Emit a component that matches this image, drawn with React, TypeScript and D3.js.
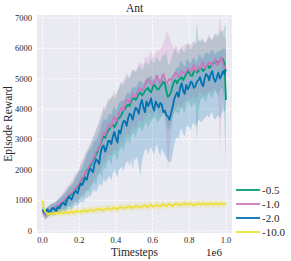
import React from "react";
import * as d3 from "d3";

const SERIES_NAMES = ["-0.5", "-1.0", "-2.0", "-10.0"];
const COLORS = ["#029E73", "#CC78BC", "#0173B2", "#ECE133"];

// timesteps spread evenly over 0 .. 1e6 (one value per entry of each array)
const T_MAX = 1e6;

const MEAN_05 = [
  680, 600, 540, 620, 640, 700, 700, 720, 740, 780,
  800, 850, 880, 920, 960, 1020, 1050, 1100, 1150, 1200,
  1250, 1330, 1380, 1450, 1500, 1620, 1700, 1780, 1900, 1980,
  2050, 2100, 2200, 2320, 2400, 2500, 2600, 2750, 2850, 3000,
  3100, 3050, 3200, 3300, 3350, 3450, 3500, 3400, 3500, 3650,
  3700, 3750, 3850, 3950, 4000, 4100, 4150, 4100, 4250, 4350,
  4350, 4300, 4400, 4500, 4550, 4450, 4500, 4600, 4650, 4700,
  4600, 4550, 4700, 4800, 4750, 4650, 4650, 4750, 4800, 4900,
  4850, 4600, 4400, 4450, 4550, 4750, 4900, 4950, 4850, 4950,
  5000, 5050, 4950, 5050, 5150, 5250, 5200, 5100, 5100, 5250,
  5300, 5200, 5250, 5350, 5350, 5250, 5300, 5400, 5450, 5350,
  5400, 5500, 5500, 5600, 5550, 5500, 5600, 5650, 5650, 5500, 4300,
];
const LO_05 = [
  530, 450, 380, 430, 470, 520, 530, 500, 560, 590,
  600, 560, 650, 700, 700, 660, 750, 800, 820, 760,
  870, 950, 950, 900, 1000, 1100, 1150, 1050, 1250, 1300,
  1350, 1250, 1450, 1550, 1600, 1500, 1750, 1850, 1900, 1750,
  2100, 2000, 2200, 2350, 2300, 2150, 2450, 2550, 2400, 2300,
  2600, 2700, 2750, 2600, 2850, 2950, 3000, 2800, 3100, 3200,
  3200, 3050, 3300, 3400, 3400, 3250, 3350, 3500, 3550, 3400,
  3500, 3600, 3650, 3750, 3700, 3550, 3600, 3700, 3750, 3850,
  3800, 3500, 3300, 3350, 3500, 3700, 3850, 3950, 3900, 3800,
  4000, 4050, 3950, 3850, 4150, 4250, 4200, 4050, 4100, 4200,
  4200, 2900, 3900, 4250, 4350, 4400, 4300, 4200, 4450, 4550,
  4400, 4350, 4500, 4600, 4550, 4450, 4600, 4700, 4650, 3500, 1800,
];
const HI_05 = [
  830, 760, 700, 770, 810, 860, 880, 900, 930, 980,
  1010, 1060, 1120, 1180, 1230, 1300, 1350, 1450, 1480, 1550,
  1620, 1750, 1820, 1900, 2000, 2150, 2250, 2350, 2500, 2600,
  2700, 2800, 2900, 3050, 3150, 3300, 3400, 3550, 3700, 3850,
  4000, 3950, 4100, 4250, 4300, 4400, 4450, 4350, 4450, 4600,
  4700, 4800, 4850, 4750, 4950, 5050, 5100, 5000, 5200, 5300,
  5250, 5200, 5300, 5450, 5400, 5300, 5350, 5500, 5550, 5450,
  5500, 5650, 5600, 5500, 5650, 5700, 5600, 5550, 5700, 5800,
  5750, 5900, 5500, 5450, 5600, 5800, 5900, 6000, 5850, 5800,
  5950, 6050, 5900, 5850, 6050, 6150, 6100, 5950, 6050, 6200,
  6150, 6850, 6250, 6200, 6250, 6350, 6200, 6150, 6350, 6450,
  6300, 6250, 6400, 6500, 6450, 6400, 6500, 6600, 6550, 6700, 6850,
];

const MEAN_10 = [
  650, 560, 520, 640, 620, 690, 720, 700, 760, 800,
  830, 880, 920, 960, 1000, 1060, 1100, 1180, 1200, 1250,
  1300, 1380, 1420, 1500, 1550, 1680, 1750, 1820, 1950, 1900,
  2050, 2200, 2250, 2350, 2450, 2600, 2650, 2750, 2900, 3100,
  3250, 3150, 3350, 3500, 3500, 3400, 3650, 3750, 3600, 3700,
  3850, 4000, 4050, 3950, 4200, 4300, 4300, 4200, 4350, 4500,
  4450, 4400, 4550, 4650, 4700, 4600, 4650, 4800, 4850, 5000,
  4950, 4850, 4800, 4900, 5000, 5100, 4950, 4850, 5050, 5150,
  5000, 4850, 4900, 5000, 4950, 5050, 5100, 5200, 5150, 5050,
  5100, 5250, 5200, 5150, 5250, 5350, 5300, 5200, 5350, 5450,
  5250, 5300, 5400, 5300, 5450, 5550, 5350, 5400, 5450, 5550,
  5500, 5400, 5550, 5650, 5450, 5500, 5600, 5700, 5500, 5350, 5400,
];
const LO_10 = [
  500, 420, 350, 400, 450, 520, 550, 540, 580, 600,
  620, 640, 680, 700, 720, 760, 780, 830, 850, 870,
  900, 930, 950, 1000, 1050, 1150, 1200, 1250, 1350, 1300,
  1400, 1500, 1550, 1600, 1700, 1800, 1850, 1900, 2000, 2150,
  2300, 2250, 2400, 2500, 2500, 2450, 2600, 2700, 2650, 2600,
  2800, 2900, 2950, 2900, 3100, 3200, 3200, 3100, 3300, 3400,
  3400, 3350, 3500, 3600, 3650, 3500, 3600, 3750, 3800, 3850,
  3900, 3750, 3700, 3850, 3950, 4000, 3800, 3700, 3900, 3850,
  3700, 3000, 2000, 2600, 3100, 3600, 3900, 4000, 4100, 4150,
  4050, 4100, 4200, 4250, 4300, 4350, 4350, 4300, 4400, 4450,
  4300, 4350, 4500, 4550, 4550, 4450, 4400, 4500, 4500, 4600,
  4600, 4550, 4650, 4700, 4500, 4300, 2600, 3800, 4550, 4500, 4450,
];
const HI_10 = [
  800, 760, 700, 760, 800, 860, 900, 920, 950, 1000,
  1050, 1100, 1150, 1250, 1300, 1380, 1450, 1500, 1550, 1650,
  1700, 1850, 1900, 1950, 2050, 2200, 2300, 2400, 2550, 2650,
  2700, 2850, 2950, 3100, 3200, 3300, 3450, 3600, 3750, 3950,
  4100, 4050, 4200, 4350, 4350, 4300, 4500, 4600, 4450, 4550,
  4700, 4900, 4850, 5000, 5050, 5200, 5100, 5050, 5150, 5300,
  5250, 5300, 5350, 5500, 5550, 5450, 5500, 5700, 5700, 5650,
  5800, 5900, 5700, 5750, 5850, 5950, 5900, 6000, 6000, 6200,
  6300, 6550, 6500, 6400, 6200, 6100, 6000, 6100, 6050, 5950,
  5950, 6050, 6050, 6150, 6100, 6200, 6150, 6100, 6200, 6250,
  6100, 6200, 6250, 6300, 6300, 6200, 6200, 6250, 6300, 6350,
  6350, 6300, 6400, 6450, 6300, 6500, 7100, 6600, 6400, 6350, 6300,
];

const MEAN_20 = [
  700, 620, 560, 700, 640, 590, 700, 760, 690, 650,
  780, 740, 830, 900, 900, 840, 1000, 1120, 1080, 1020,
  1150, 1260, 1300, 1220, 1420, 1550, 1500, 1620, 1750, 1680,
  1900, 2050, 2000, 1920, 2200, 2350, 2300, 2200, 2550, 2750,
  2800, 2600, 2750, 2950, 2950, 2850, 3100, 3250, 3050, 2900,
  3300, 3200, 3450, 3600, 3600, 3450, 3700, 3850, 3800, 3650,
  3900, 4050, 3980, 3850, 4150, 4300, 4050, 3900, 4250, 4100,
  4200, 4350, 4100, 3950, 4250, 4150, 4050, 4200, 4150, 3900,
  3950, 3800, 3750, 3650, 3850, 4050, 4300, 4450, 4550, 4400,
  4700, 4850, 4600, 4500, 4800, 4650, 4750, 4900, 4850, 4700,
  4750, 4900, 4950, 5050, 4850, 4750, 5000, 5150, 5100, 4950,
  5150, 5250, 5000, 4900, 5050, 5200, 5000, 5100, 5250, 5150, 5300,
];
const LO_20 = [
  550, 470, 400, 440, 480, 500, 520, 480, 500, 540,
  560, 540, 580, 620, 620, 600, 680, 700, 720, 680,
  760, 820, 850, 800, 900, 950, 950, 900, 1100, 1050,
  1150, 1100, 1200, 1300, 1350, 1250, 1400, 1500, 1550, 1450,
  1700, 1600, 1650, 1750, 1800, 1650, 1900, 2000, 1850, 1750,
  2000, 2050, 2100, 1950, 2150, 2250, 2300, 2100, 2350, 2000,
  2400, 2300, 2450, 2100, 1800, 2300, 2500, 2650, 2700, 2500,
  2650, 2750, 2600, 2500, 2750, 2850, 2600, 2450, 2700, 2600,
  2500, 2400, 2300, 2250, 2250, 2500, 2800, 3000, 3100, 3000,
  3300, 3350, 3200, 3100, 3400, 3450, 3400, 3300, 3500, 3550,
  3400, 3500, 3650, 3600, 3550, 3650, 3700, 3750, 3800, 3700,
  3850, 3900, 3700, 3650, 3750, 3800, 3700, 3850, 3950, 3900, 4050,
];
const HI_20 = [
  850, 780, 700, 760, 800, 840, 880, 900, 900, 960,
  1000, 1040, 1080, 1130, 1180, 1250, 1320, 1400, 1450, 1500,
  1550, 1650, 1750, 1850, 1950, 2000, 2050, 2200, 2350, 2500,
  2600, 2650, 2700, 2850, 2950, 3000, 3050, 3250, 3400, 3550,
  3700, 3650, 3650, 3800, 3850, 3800, 4000, 4100, 3950, 4050,
  4200, 4250, 4300, 4250, 4400, 4500, 4550, 4500, 4650, 4700,
  4750, 4700, 4800, 4900, 4950, 4850, 4850, 4950, 5000, 5050,
  5050, 5100, 5000, 4950, 5100, 5150, 4950, 4900, 5000, 5050,
  4900, 4850, 4850, 4800, 4900, 5050, 5200, 5300, 5400, 5350,
  5550, 5600, 5450, 5400, 5600, 5650, 5550, 5500, 5650, 5700,
  5600, 5550, 5750, 5800, 5700, 5650, 5800, 5850, 5850, 5800,
  5900, 5950, 5850, 5800, 5850, 5900, 5900, 5950, 6000, 5950, 6050,
];

const MEAN_100 = [
  1000, 700, 600, 560, 540, 580, 560, 540, 570, 590,
  560, 600, 590, 570, 580, 620, 600, 580, 610, 640,
  590, 610, 630, 650, 620, 600, 650, 670, 640, 630,
  660, 690, 680, 660, 650, 700, 690, 720, 700, 670,
  680, 710, 720, 750, 700, 690, 740, 760, 720, 700,
  750, 780, 770, 750, 740, 770, 780, 800, 760, 740,
  790, 820, 800, 780, 770, 800, 810, 840, 790, 770,
  830, 850, 800, 790, 840, 860, 810, 800, 850, 870,
  820, 800, 860, 880, 830, 810, 850, 880, 870, 850,
  840, 870, 860, 890, 880, 850, 870, 900, 850, 840,
  860, 880, 890, 870, 860, 900, 880, 860, 870, 890,
  890, 870, 860, 900, 880, 860, 900, 880, 870, 890, 860,
];
const LO_100 = [
  880, 580, 480, 460, 440, 470, 460, 440, 470, 480,
  460, 490, 480, 470, 480, 510, 500, 480, 500, 530,
  490, 500, 520, 540, 510, 500, 540, 560, 530, 520,
  550, 580, 570, 550, 540, 590, 580, 610, 590, 560,
  570, 600, 610, 640, 590, 580, 630, 650, 610, 590,
  640, 670, 660, 640, 630, 660, 670, 690, 650, 630,
  680, 710, 690, 670, 660, 690, 700, 730, 680, 660,
  720, 740, 690, 680, 730, 750, 700, 690, 740, 760,
  710, 690, 750, 770, 720, 700, 740, 770, 760, 740,
  730, 760, 750, 780, 770, 740, 760, 790, 740, 730,
  750, 770, 780, 760, 750, 790, 770, 750, 760, 780,
  780, 760, 750, 790, 770, 750, 790, 770, 760, 780, 750,
];
const HI_100 = [
  1130, 820, 720, 670, 650, 690, 670, 650, 680, 710,
  670, 720, 710, 680, 690, 740, 720, 700, 730, 760,
  710, 730, 750, 770, 740, 720, 770, 790, 760, 750,
  780, 810, 800, 780, 770, 820, 810, 840, 820, 790,
  800, 830, 840, 870, 820, 810, 860, 880, 840, 820,
  870, 900, 890, 870, 860, 890, 900, 920, 880, 860,
  910, 940, 920, 900, 890, 920, 930, 960, 910, 890,
  950, 970, 920, 910, 960, 980, 930, 920, 970, 990,
  940, 920, 980, 1000, 950, 930, 970, 1000, 990, 970,
  960, 990, 980, 1010, 1000, 970, 990, 1020, 970, 960,
  980, 1000, 1010, 990, 980, 1020, 1000, 980, 990, 1010,
  1010, 990, 980, 1020, 1000, 980, 1020, 1000, 990, 1010, 980,
];

const MEANS = [MEAN_05, MEAN_10, MEAN_20, MEAN_100];
const LOWS = [LO_05, LO_10, LO_20, LO_100];
const HIGHS = [HI_05, HI_10, HI_20, HI_100];

const X_TICKS = [0, 0.2e6, 0.4e6, 0.6e6, 0.8e6, 1.0e6];
const Y_TICKS = [0, 1000, 2000, 3000, 4000, 5000, 6000, 7000];

const W = 291;
const H = 261;
const PL = 37, PR = 232, PT = 15, PB = 233;
const FONT = "'Liberation Serif', 'DejaVu Serif', serif";

export default function App() {
  const x = d3.scaleLinear().domain([-0.03e6, 1.0327e6]).range([PL, PR]);
  const y = d3.scaleLinear().domain([-76, 7095]).range([PB, PT]);

  const stepOf = (n: number, i: number) => (i / (n - 1)) * T_MAX;

  const line = (vals: number[]) =>
    d3
      .line<number>()
      .x((_, i) => x(stepOf(vals.length, i)))
      .y((v) => y(v))(vals) || "";
  const area = (lo: number[], hi: number[]) => {
    const n = Math.min(lo.length, hi.length);
    const idx = d3.range(n);
    return (
      d3
        .area<number>()
        .x((i) => x(stepOf(n, i)))
        .y0((i) => y(lo[i]))
        .y1((i) => y(hi[i]))(idx) || ""
    );
  };

  const legendY = [190, 204, 218, 232];

  return (
    <svg
      width={W}
      height={H}
      style={{ position: "absolute", left: 0, top: 0, background: "#fff" }}
      fontFamily={FONT}
    >
      <rect x={PL} y={PT} width={PR - PL} height={PB - PT} fill="#EAEAF2" />
      {X_TICKS.map((t) => (
        <line key={"gx" + t} x1={x(t)} x2={x(t)} y1={PT} y2={PB} stroke="#fff" strokeWidth={0.9} strokeDasharray="3,1.5" />
      ))}
      {Y_TICKS.map((t) => (
        <line key={"gy" + t} x1={PL} x2={PR} y1={y(t)} y2={y(t)} stroke="#fff" strokeWidth={0.9} strokeDasharray="3,1.5" />
      ))}
      <g>
        {MEANS.map((_, k) => (
          <path key={"band" + k} d={area(LOWS[k], HIGHS[k])} fill={COLORS[k]} fillOpacity={0.22} stroke="none" />
        ))}
        {MEANS.map((m, k) => (
          <path key={"line" + k} d={line(m)} fill="none" stroke={COLORS[k]} strokeWidth={1.8} strokeLinejoin="round" />
        ))}
      </g>
      {X_TICKS.map((t) => (
        <text key={"tx" + t} x={x(t)} y={242.5} fontSize={8.5} textAnchor="middle" fill="#262626">
          {(t / 1e6).toFixed(1)}
        </text>
      ))}
      {Y_TICKS.map((t) => (
        <text key={"ty" + t} x={32} y={y(t)} fontSize={8.5} textAnchor="end" dominantBaseline="central" fill="#262626">
          {t}
        </text>
      ))}
      <text x={(PL + PR) / 2} y={11.5} fontSize={11.5} textAnchor="middle" fill="#262626">
        Ant
      </text>
      <text x={(PL + PR) / 2} y={256} fontSize={11.5} textAnchor="middle" fill="#262626">
        Timesteps
      </text>
      <text x={222} y={256} fontSize={11} textAnchor="end" fill="#262626">
        1e6
      </text>
      <text
        transform={`translate(12, ${(PT + PB) / 2}) rotate(-90)`}
        fontSize={11.5}
        textAnchor="middle"
        fill="#262626"
      >
        Episode Reward
      </text>
      {SERIES_NAMES.map((name, k) => (
        <g key={"leg" + k}>
          <line x1={236} x2={260} y1={legendY[k]} y2={legendY[k]} stroke={COLORS[k]} strokeWidth={1.8} />
          <text x={262} y={legendY[k]} fontSize={11} dominantBaseline="central" fill="#262626">
            {name}
          </text>
        </g>
      ))}
    </svg>
  );
}
